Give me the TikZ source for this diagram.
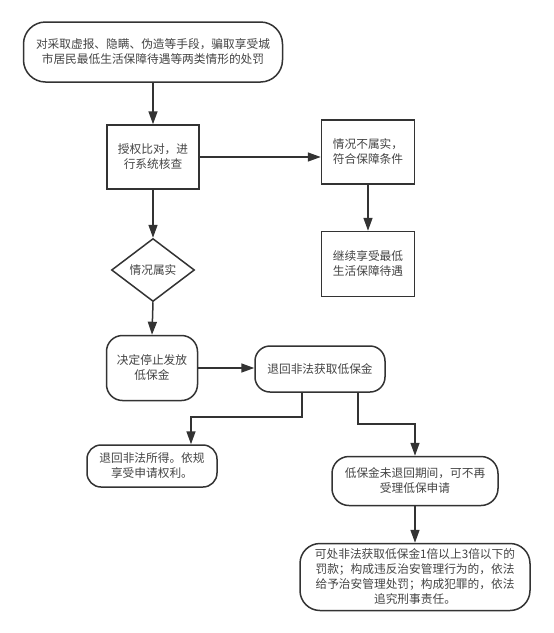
\documentclass[tikz,border=0pt]{standalone}
\usepackage{fontspec}
\newfontfamily\cjk{Noto Sans CJK SC}
\usetikzlibrary{arrows.meta,shapes.geometric}
\definecolor{linecol}{HTML}{333333}
\definecolor{txtcol}{HTML}{444444}
\begin{document}
\begin{tikzpicture}[x=1pt,y=-1pt,
  base/.style={draw=linecol, line width=1.5pt, text=txtcol, font=\cjk\fontsize{11.7}{15}\selectfont, align=center, inner sep=0pt, fill=white},
  box/.style={base, rectangle},
  pill/.style={base, rectangle, rounded corners=#1},
  dia/.style={base, diamond},
  arr/.style={draw=linecol, line width=1.5pt, -{Triangle[length=13pt,width=9pt]}},
  seg/.style={draw=linecol, line width=1.5pt}
]
\fill[white] (0,0) rectangle (554,633);
\useasboundingbox (0,0) rectangle (554,633);

\node[pill=22pt, minimum width=259pt, minimum height=60pt] (n1) at (153,52)
  {对采取虚报、隐瞒、伪造等手段，骗取享受城\\市居民最低生活保障待遇等两类情形的处罚};
\node[box, minimum width=92pt, minimum height=64pt] (n2) at (153,157)
  {授权比对，进\\行系统核查};
\node[box, minimum width=93pt, minimum height=64pt] (n3) at (368,152)
  {情况不属实，\\符合保障条件};
\node[box, minimum width=93pt, minimum height=65pt] (n4) at (368,264)
  {继续享受最低\\生活保障待遇};
\node[dia, minimum width=83pt, minimum height=63pt] (n5) at (153,270)
  {情况属实};
\node[pill=16pt, minimum width=91pt, minimum height=65pt] (n6) at (152,368)
  {决定停止发放\\低保金};
\node[pill=15pt, minimum width=130pt, minimum height=46pt] (n7) at (320,369)
  {退回非法获取低保金};
\node[pill=14pt, minimum width=130pt, minimum height=42pt] (n8) at (152,466)
  {退回非法所得。依规\\享受申请权利。};
\node[pill=17pt, minimum width=166pt, minimum height=49pt] (n9) at (415,481)
  {低保金未退回期间，可不再\\受理低保申请};
\node[pill=20pt, minimum width=230pt, minimum height=67pt] (n10) at (415,577)
  {可处非法获取低保金1倍以上3倍以下的\\罚款；构成违反治安管理行为的，依法\\给予治安管理处罚；构成犯罪的，依法\\追究刑事责任。};

\coordinate (b1) at (302,417);
\coordinate (c1) at (191,417);
\coordinate (b2) at (358,424);

\draw[arr] (n1.south) -- (n2.north);
\draw[arr] (n2.east) -- (n2.east -| n3.west);
\draw[arr] (n3.south) -- (n4.north);
\draw[arr] (n2.south) -- (n5.north);
\draw[arr] (n5.south) -- (n6.north);
\draw[arr] (n6.east) -- (n6.east -| n7.west);
\draw[arr] (n7.south -| b1) -- (b1) -- (c1) -- (c1 |- n8.north);
\draw[arr] (n7.south -| b2) -- (b2) -| (n9.north);
\draw[arr] (n9.south) -- (n10.north);
\end{tikzpicture}
\end{document}
